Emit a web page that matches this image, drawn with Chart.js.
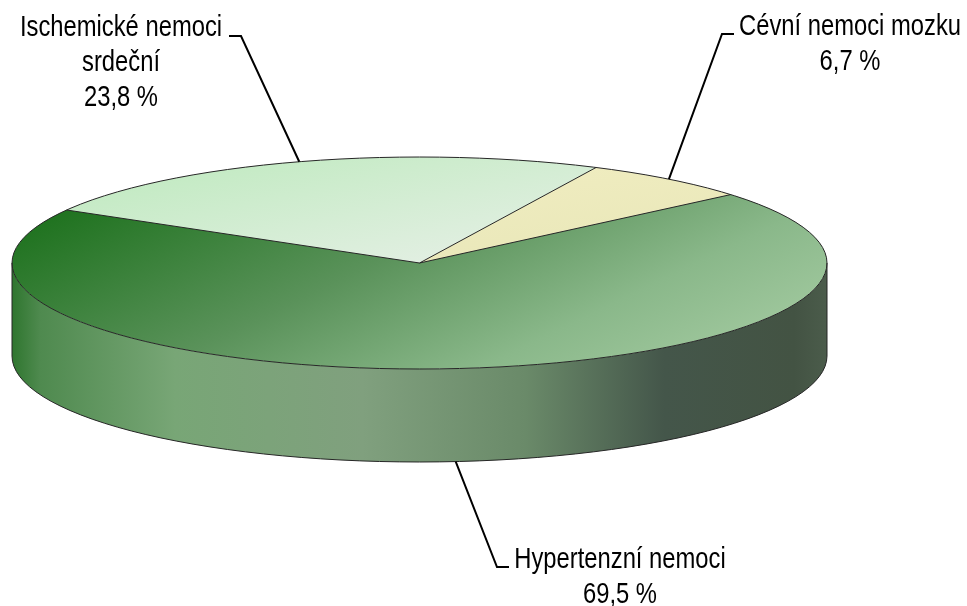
<!DOCTYPE html>
<html>
<head>
<meta charset="utf-8">
<script src="https://cdn.jsdelivr.net/npm/chart.js@4"></script>
<style>
  html, body { margin: 0; padding: 0; background: #fff; }
  #wrap { width: 967px; height: 606px; }
</style>
</head>
<body>
<div id="wrap"><canvas id="pie" width="967" height="606"></canvas></div>
<script>
// --- data ---
const categories = ['Ischemické nemoci srdeční', 'Cévní nemoci mozku', 'Hypertenzní nemoci'];
const shares = [23.8, 6.7, 69.5];
const labelLines = [['Ischemické nemoci', 'srdeční'], ['Cévní nemoci mozku'], ['Hypertenzní nemoci']];

// --- 3D projection of the pie (screen px) ---
const CX = 419.5, CY = 263, RX = 407.5, RY = 106, DEPTH = 93;

// top face fills, gradient ends given in screen coords
const topFill = [
  { from: [120, 165], to: [430, 265], stops: [[0, '#c0eac0'], [1, '#e2efe2']] },
  { from: [600, 165], to: [720, 230], stops: [[0, '#efecbf'], [1, '#eae8ba']] },
  { from: [60, 213], to: [779, 313], stops: [[0, '#207320'], [0.45, '#5a925a'], [0.8, '#8ab88a'], [1, '#9cc59a']] },
];
// side wall fills (horizontal)
const sideFill = [
  [[0, '#8fc08f'], [1, '#6f986f']],
  [[0, '#c8c69a'], [1, '#a09e78']],
  [[0, '#2f762f'], [0.035, '#4f8a4f'], [0.2, '#78a676'], [0.43, '#80a07e'], [0.63, '#6a8a69'],
   [0.8, '#44564a'], [0.96, '#435343'], [1, '#4b5c4b']],
];
// label placement: text centre x, first baseline y, leader elbow and end
const labelLayout = [
  { x: 121, y: 36, elbow: [241, 36], end: [229, 36] },
  { x: 850, y: 35, elbow: [722, 34], end: [734, 34] },
  { x: 620, y: 568, elbow: [497, 567], end: [509, 567] },
];

const FONT = "29px 'Liberation Sans', Arial, sans-serif";
const NARROW = 0.82;   // Arial Narrow look

function topGradient(chart, i) {
  const ca = chart.chartArea;
  if (!ca) return topFill[i].stops[0][1];
  const nx = (ca.left + ca.right) / 2, ny = (ca.top + ca.bottom) / 2;
  const nr = Math.min(ca.right - ca.left, ca.bottom - ca.top) / 2;
  const toN = (p) => [nx + (p[0] - CX) * nr / RX, ny + (p[1] - CY) * nr / RY];
  const a = toN(topFill[i].from), b = toN(topFill[i].to);
  const g = chart.ctx.createLinearGradient(a[0], a[1], b[0], b[1]);
  topFill[i].stops.forEach(s => g.addColorStop(s[0], s[1]));
  return g;
}

const ePt = (t, dy) => [CX + RX * Math.cos(t), CY + (dy || 0) + RY * Math.sin(t)];

// parts of [s,e] that face the viewer (sin > 0)
function frontParts(s, e) {
  const out = [];
  for (let k = -2; k <= 2; k++) {
    const lo = Math.max(s, 2 * Math.PI * k), hi = Math.min(e, 2 * Math.PI * k + Math.PI);
    if (hi > lo) out.push([lo, hi]);
  }
  return out;
}

const pie3d = {
  id: 'pie3d',
  beforeDatasetsDraw(chart) {
    const ctx = chart.ctx;
    const arcs = chart.getDatasetMeta(0).data;

    // side wall
    arcs.forEach((arc, i) => {
      frontParts(arc.startAngle, arc.endAngle).forEach(([a, b]) => {
        const g = ctx.createLinearGradient(CX - RX, 0, CX + RX, 0);
        sideFill[i].forEach(s => g.addColorStop(s[0], s[1]));
        ctx.beginPath();
        ctx.ellipse(CX, CY, RX, RY, 0, a, b);
        const p = ePt(b, DEPTH);
        ctx.lineTo(p[0], p[1]);
        ctx.ellipse(CX, CY + DEPTH, RX, RY, 0, b, a, true);
        ctx.closePath();
        ctx.fillStyle = g;
        ctx.fill();
      });
    });

    // squash the flat pie into the top ellipse
    const a0 = arcs[0];
    ctx.save();
    ctx.translate(CX, CY);
    ctx.scale(RX / a0.outerRadius, RY / a0.outerRadius);
    ctx.translate(-a0.x, -a0.y);
  },
  afterDatasetsDraw(chart) {
    const ctx = chart.ctx;
    ctx.restore();
    const arcs = chart.getDatasetMeta(0).data;

    // outlines
    ctx.save();
    ctx.strokeStyle = '#262626';
    ctx.lineWidth = 1;
    ctx.beginPath();
    ctx.ellipse(CX, CY, RX, RY, 0, 0, Math.PI * 2);
    ctx.stroke();
    ctx.beginPath();
    ctx.ellipse(CX, CY + DEPTH, RX, RY, 0, 0, Math.PI);
    ctx.stroke();
    ctx.beginPath();
    ctx.moveTo(CX + RX, CY); ctx.lineTo(CX + RX, CY + DEPTH);
    ctx.moveTo(CX - RX, CY); ctx.lineTo(CX - RX, CY + DEPTH);
    arcs.forEach(arc => {
      const p = ePt(arc.startAngle);
      ctx.moveTo(CX, CY); ctx.lineTo(p[0], p[1]);
      if (Math.sin(arc.startAngle) > 0) ctx.lineTo(p[0], p[1] + DEPTH);
    });
    ctx.stroke();
    ctx.restore();

    // leader lines and labels
    ctx.save();
    ctx.font = FONT;
    ctx.fillStyle = '#000';
    ctx.textAlign = 'center';
    ctx.textBaseline = 'alphabetic';
    arcs.forEach((arc, i) => {
      const mid = (arc.startAngle + arc.endAngle) / 2;
      const p = ePt(mid, Math.sin(mid) > 0 ? DEPTH : 0);
      const L = labelLayout[i];
      ctx.beginPath();
      ctx.strokeStyle = '#000';
      ctx.lineWidth = 2;
      ctx.moveTo(p[0], p[1]);
      ctx.lineTo(L.elbow[0], L.elbow[1]);
      ctx.lineTo(L.end[0], L.end[1]);
      ctx.stroke();
      const lines = labelLines[i].concat([shares[i].toFixed(1).replace('.', ',') + ' %']);
      lines.forEach((t, k) => {
        ctx.save();
        ctx.translate(L.x, L.y + k * 35);
        ctx.scale(NARROW, 1);
        ctx.fillText(t, 0, 0);
        ctx.restore();
      });
    });
    ctx.restore();
  }
};

new Chart(document.getElementById('pie'), {
  type: 'pie',
  data: {
    labels: categories,
    datasets: [{
      data: shares,
      backgroundColor: (c) => topGradient(c.chart, c.dataIndex),
      borderWidth: 0,
      clip: false
    }]
  },
  options: {
    responsive: false,
    animation: false,
    events: [],
    rotation: -60,
    plugins: { legend: { display: false }, tooltip: { enabled: false } }
  },
  plugins: [pie3d]
});
</script>
</body>
</html>
